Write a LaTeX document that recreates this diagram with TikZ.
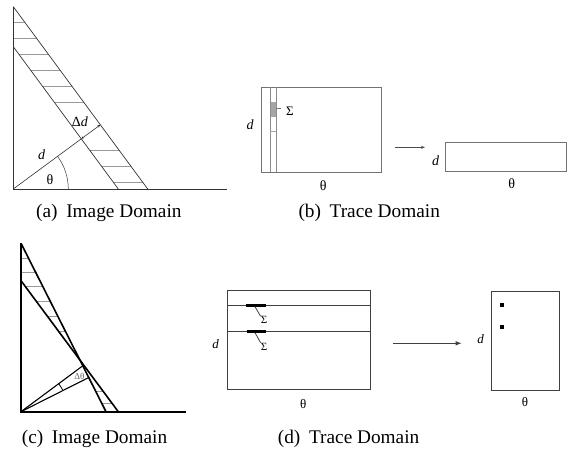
\documentclass[tikz,border=0pt]{standalone}
\usepackage{fontspec}
\setmainfont{Liberation Serif}
\usetikzlibrary{arrows.meta,calc}
\begin{document}
\begin{tikzpicture}[x=1pt,y=-1pt,
  lbl/.style={inner sep=0pt, font=\fontsize{14}{14}\selectfont},
  slbl/.style={inner sep=0pt, font=\fontsize{11}{11}\selectfont},
  captxt/.style={inner sep=0pt, anchor=west, font=\fontsize{19.3}{19.3}\selectfont},
  aline/.style={draw=black!80, line width=0.7pt},
  hatch/.style={draw=black!40, line width=0.6pt},
  bline/.style={draw=black!55, line width=0.6pt},
  cline/.style={draw=black, line width=1.6pt},
  cray/.style={draw=black, line width=1.1pt},
  dline/.style={draw=black!75, line width=0.8pt},
  bar/.style={draw=black, line width=3pt},
  sqdot/.style={fill=black, draw=none}
]
\useasboundingbox (0,0) rectangle (573,455);

% ---------------- (a) Image Domain ----------------
\coordinate (aO) at (13.3,189);
\coordinate (aTop) at (13.3,6.7);
\coordinate (aEnd) at (227,189);
\coordinate (aoB) at (147.7,189);
\coordinate (aiT) at (13.3,46.7);
\coordinate (aiB) at (118.3,189);
\foreach \y in {22.7,38.7,54.7,70.7,86.7,102.7,150.7,166.7,182.7}{
  \pgfmathsetmacro\xr{13.3+(\y-6.7)*0.7373}
  \pgfmathsetmacro\xl{max(13.3,13.3+(\y-46.7)*0.7379)}
  \draw[hatch] (\xl,\y) -- (\xr,\y);
}
\draw[aline] (aTop) -- (aO) -- (aEnd);
\draw[aline] (aTop) -- (aoB);
\draw[aline] (aiT) -- (aiB);
\coordinate (aF1) at ($(aiT)!(aO)!(aiB)$);
\coordinate (aF2) at ($(aTop)!(aO)!(aoB)$);
\draw[aline, line width=0.6pt] (aO) -- (aF1);
\draw[aline, line width=0.6pt, {Stealth[length=3pt,width=2.5pt]}-{Stealth[length=3pt,width=2.5pt]}] (aF1) -- (aF2);
\draw[aline, line width=0.5pt] ($(aO)+(55,0)$) arc[start angle=0, end angle=-36.4, radius=55];
\node[lbl] (ad) at (41.7,155) {\itshape d};
\node[lbl] (add) at (80,122) {Δ\textit{d}};
\node[lbl] (ath) at (50,180) {θ};
\node[captxt] (capa) at (36,213) {(a)\hspace{0.45em}Image Domain};

% ---------------- (b) Trace Domain ----------------
\draw[bline] (261,87.3) rectangle (381.7,172.3);
\fill[black!35] (270,102.3) rectangle (276.3,116.7);
\draw[bline, draw=black!45] (270,87.3) -- (270,172.3);
\draw[bline, draw=black!45] (276.3,87.3) -- (276.3,172.3);
\draw[bline, draw=black!35] (270,131) -- (276.3,131);
\coordinate (bS) at (276.3,108.3);
\coordinate (bL) at (281,108.3);
\node[slbl, font=\fontsize{13}{13}\selectfont] (bsig) at (290,111.2) {Σ};
\draw[bline] (bS) -- (bL);
\node[lbl] (bd) at (250,125) {\itshape d};
\node[lbl] (bth) at (323.3,186) {θ};
\coordinate (bA1) at (395,147.3);
\coordinate (bA2) at (425,147.3);
\draw[bline, draw=black!70, -{Stealth[length=4pt,width=3pt]}] (bA1) -- (bA2);
\draw[bline] (445.7,142.7) rectangle (566.7,171);
\node[lbl] (bd2) at (435.7,160.7) {\itshape d};
\node[lbl] (bth2) at (511.7,183.3) {θ};
\node[captxt] (capb) at (298.3,213) {(b)\hspace{0.45em}Trace Domain};

% ---------------- (c) Image Domain ----------------
\coordinate (cO) at (21,411.7);
\coordinate (cTop) at (21,243.3);
\coordinate (cEnd) at (186,411.7);
\coordinate (cA2) at (106,411.7);
\coordinate (cB1) at (21,280.7);
\coordinate (cB2) at (118.3,411.7);
\foreach \y in {258.3,272.7,286.7,301.7,316.7,331.7,391,403.3}{
  \pgfmathsetmacro\xa{21+(\y-243.3)*0.5048}
  \pgfmathsetmacro\xb{max(21,21+(\y-280.7)*0.7427)}
  \pgfmathsetmacro\xl{min(\xa,\xb)}
  \pgfmathsetmacro\xr{max(\xa,\xb)}
  \draw[hatch, line width=0.8pt] (\xl,\y) -- (\xr,\y);
}
\draw[cline] (cTop) -- (cO) -- (cEnd);
\draw[cline] (cTop) -- (cA2);
\draw[cline] (cB1) -- (cB2);
\coordinate (cFA) at ($(cTop)!(cO)!(cA2)$);
\coordinate (cFB) at ($(cB1)!(cO)!(cB2)$);
\draw[cray] (cO) -- (cFA);
\draw[cray] (cO) -- (cFB);
\draw[cray, line width=0.8pt] ($(cO)+(-26.8:47)$) arc[start angle=-26.8, end angle=-36.6, radius=47];
\node[inner sep=0pt, font=\fontsize{9}{9}\selectfont, text=black!60] (cdt) at (79.3,376.2) {Δθ};
\node[captxt] (capc) at (21.7,439) {(c)\hspace{0.45em}Image Domain};

% ---------------- (d) Trace Domain ----------------
\draw[dline] (227.7,290.7) rectangle (370,389.3);
\draw[dline] (227.7,305) -- (370,305);
\draw[dline] (227.7,331) -- (370,331);
\draw[bar] (245.7,305) -- (265.7,305);
\draw[bar] (246.7,331) -- (266,331);
\node[slbl] (ds1) at (264,320) {Σ};
\node[slbl] (ds2) at (264,346.5) {Σ};
\draw[dline] (255,306.7) -- (ds1.north west);
\draw[dline] (255,332.7) -- (ds2.north west);
\node[lbl, font=\fontsize{13}{13}\selectfont] (dd) at (215.7,344.3) {\itshape d};
\node[lbl, font=\fontsize{13}{13}\selectfont] (dth) at (303.3,404) {θ};
\coordinate (dA1) at (393,343.3);
\coordinate (dA2) at (461.7,343.3);
\draw[dline, -{Latex[length=6pt,width=4.5pt]}] (dA1) -- (dA2);
\draw[dline] (491.7,291) rectangle (559.3,390);
\fill[sqdot] (500,302.7) rectangle (504,306.7);
\fill[sqdot] (500,325.3) rectangle (504,329.3);
\node[lbl, font=\fontsize{13}{13}\selectfont] (dd2) at (480.7,339.3) {\itshape d};
\node[lbl, font=\fontsize{13}{13}\selectfont] (dth2) at (525,401.7) {θ};
\node[captxt] (capd) at (277.7,439) {(d)\hspace{0.45em}Trace Domain};
\end{tikzpicture}
\end{document}
